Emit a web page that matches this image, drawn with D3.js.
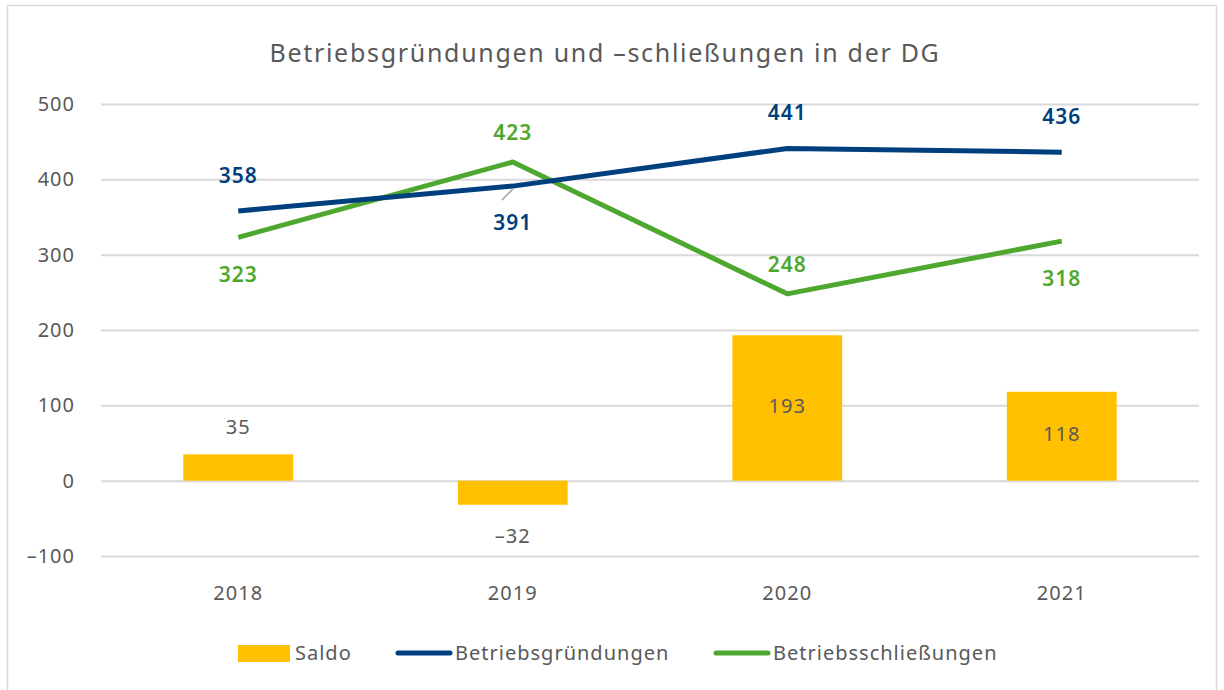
<!DOCTYPE html>
<html>
<head>
<meta charset="utf-8">
<script src="https://cdn.jsdelivr.net/npm/d3@7"></script>
<style>
  body { margin: 0; background: #fff; font-family: "Noto Sans", "Open Sans", sans-serif; }
  svg text { letter-spacing: 1px; }
</style>
</head>
<body>
<div id="chart"></div>
<script>
// Data
const years = ["2018", "2019", "2020", "2021"];
const saldo = [35, -32, 193, 118];
const gruendungen = [358, 391, 441, 436];
const schliessungen = [323, 423, 248, 318];
const yTicks = [-100, 0, 100, 200, 300, 400, 500];

// label placement per point (above / below / inside)
const gruendPos = ["above", "below", "above", "above"];
const schliessPos = ["below", "above", "above", "below"];
const saldoPos = ["above", "below", "inside", "inside"];

const width = 1224, height = 690;
const margin = { top: 104, right: 25, bottom: 134, left: 101 };
const textColor = "#595959";
const blue = "#003F7D", green = "#4EA72E", yellow = "#FFC000";

const svg = d3.select("#chart").append("svg")
    .attr("width", width)
    .attr("height", height);

// Outer frame
svg.append("rect")
    .attr("x", 7.5).attr("y", 5.5)
    .attr("width", 1209).attr("height", 700)
    .attr("fill", "none").attr("stroke", "#d9d9d9").attr("stroke-width", 1.5);

// Title
svg.append("text")
    .attr("x", 605).attr("y", 62)
    .attr("text-anchor", "middle")
    .attr("font-size", 25)
    .style("letter-spacing", "1.7px")
    .attr("fill", textColor)
    .text("Betriebsgründungen und –schließungen in der DG");

const x = d3.scaleBand()
    .domain(years)
    .range([margin.left, width - margin.right])
    .paddingInner(0.6).paddingOuter(0.3);

const xc = d => x(d) + x.bandwidth() / 2;

const y = d3.scaleLinear()
    .domain([-100, 500])
    .range([556, 104]);

// Grid lines + y labels
const yAxis = svg.append("g")
    .attr("transform", `translate(${margin.left},0)`)
    .call(d3.axisLeft(y).tickValues(yTicks)
        .tickSize(-(width - margin.right - margin.left))
        .tickPadding(26)
        .tickFormat(d => d < 0 ? "–" + Math.abs(d) : d));
yAxis.select(".domain").remove();
yAxis.selectAll(".tick line").attr("stroke", "#d9d9d9").attr("stroke-width", 2);
yAxis.selectAll(".tick text").attr("fill", textColor).attr("font-size", 20)
    .attr("font-family", "Noto Sans, sans-serif");

// x labels
svg.append("g").selectAll("text")
    .data(years).join("text")
    .attr("x", d => xc(d)).attr("y", 600)
    .attr("text-anchor", "middle")
    .attr("font-size", 20).attr("fill", textColor)
    .text(d => d);

// Bars
svg.append("g").selectAll("rect")
    .data(saldo).join("rect")
    .attr("x", (d, i) => x(years[i]))
    .attr("width", x.bandwidth())
    .attr("y", d => y(Math.max(0, d)))
    .attr("height", d => Math.abs(y(d) - y(0)))
    .attr("fill", yellow);

// Lines
const line = d3.line().x((d, i) => xc(years[i])).y(d => y(d));
svg.append("path").datum(schliessungen)
    .attr("d", line).attr("fill", "none")
    .attr("stroke", green).attr("stroke-width", 5).attr("stroke-linejoin", "round");
svg.append("path").datum(gruendungen)
    .attr("d", line).attr("fill", "none")
    .attr("stroke", blue).attr("stroke-width", 5).attr("stroke-linejoin", "round");

// Leader line for 391
svg.append("line")
    .attr("x1", xc("2019") - 11).attr("y1", y(gruendungen[1]) + 14)
    .attr("x2", xc("2019")).attr("y2", y(gruendungen[1]) + 3)
    .attr("stroke", "#a6a6a6").attr("stroke-width", 1.5);

// Data labels
svg.append("g").selectAll("text")
    .data(gruendungen).join("text")
    .attr("x", (d, i) => xc(years[i]))
    .attr("y", (d, i) => gruendPos[i] === "below" ? y(d) + 44 : y(d) - 28)
    .attr("text-anchor", "middle").attr("font-size", 21).attr("font-weight", 600)
    .attr("fill", blue).text(d => d);

svg.append("g").selectAll("text")
    .data(schliessungen).join("text")
    .attr("x", (d, i) => xc(years[i]))
    .attr("y", (d, i) => schliessPos[i] === "below" ? y(d) + 45 : y(d) - 22)
    .attr("text-anchor", "middle").attr("font-size", 21).attr("font-weight", 600)
    .attr("fill", green).text(d => d);

svg.append("g").selectAll("text")
    .data(saldo).join("text")
    .attr("x", (d, i) => xc(years[i]))
    .attr("y", (d, i) => saldoPos[i] === "above" ? y(d) - 20
        : saldoPos[i] === "below" ? y(d) + 38
        : (y(d) + y(0)) / 2 + 5)
    .attr("text-anchor", "middle").attr("font-size", 20)
    .attr("fill", textColor).text(d => d < 0 ? "–" + Math.abs(d) : d);

// Legend
const legend = svg.append("g").attr("font-size", 20).attr("fill", textColor);
legend.append("rect").attr("x", 238).attr("y", 645).attr("width", 52).attr("height", 17).attr("fill", yellow);
legend.append("text").attr("x", 295).attr("y", 660).text("Saldo");
legend.append("line").attr("x1", 398).attr("x2", 450).attr("y1", 653).attr("y2", 653)
    .attr("stroke", blue).attr("stroke-width", 5).attr("stroke-linecap", "round");
legend.append("text").attr("x", 455).attr("y", 660).text("Betriebsgründungen");
legend.append("line").attr("x1", 716).attr("x2", 768).attr("y1", 653).attr("y2", 653)
    .attr("stroke", green).attr("stroke-width", 5).attr("stroke-linecap", "round");
legend.append("text").attr("x", 773).attr("y", 660).text("Betriebsschließungen");
</script>
</body>
</html>
